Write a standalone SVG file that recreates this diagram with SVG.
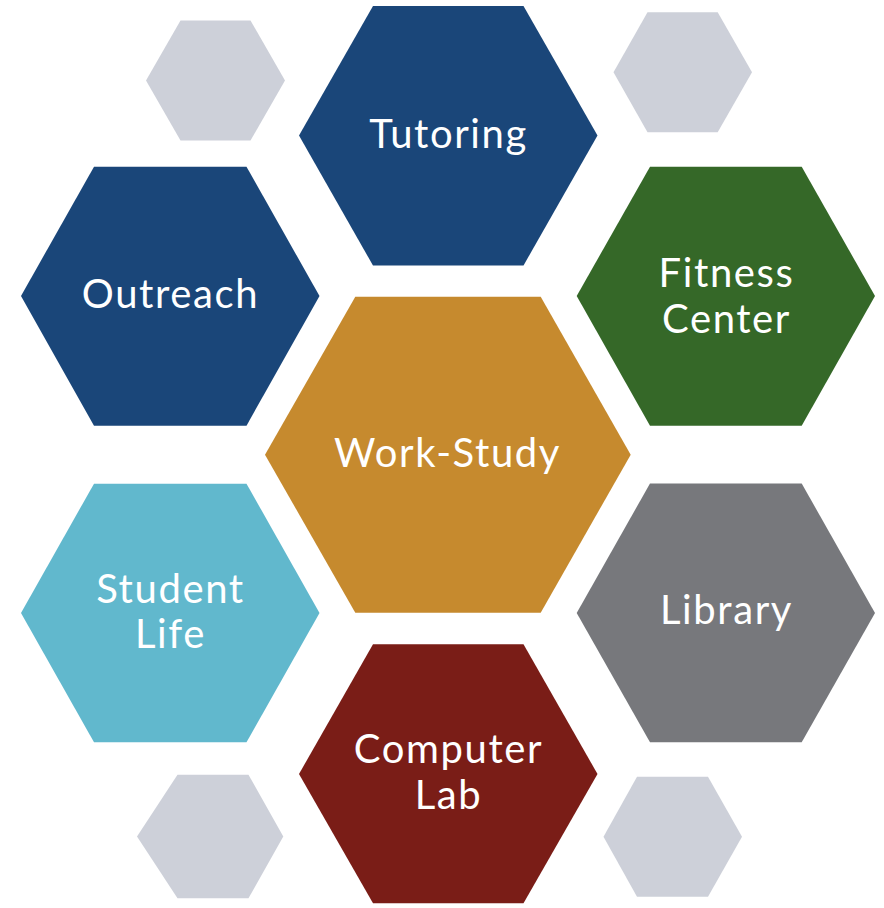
<svg xmlns="http://www.w3.org/2000/svg" width="884" height="908" viewBox="0 0 884 908">
<style>
.t{font-family:"Lato","Open Sans","Liberation Sans",sans-serif;font-size:40px;letter-spacing:1.6px;fill:#ffffff;text-anchor:middle}
.deco{fill:#CDD0D9}
</style>
<rect width="884" height="908" fill="#ffffff"/>
<g id="deco">
<polygon class="deco" points="146,80.5 180.5,20.5 250.5,20.5 285,80.5 250.5,140.5 180.5,140.5"/>
<polygon class="deco" points="613.5,72.3 647.5,12.3 717.7,12.3 752,72.3 717.7,132.3 647.5,132.3"/>
<polygon class="deco" points="137,836.5 177.5,774.7 248.5,774.7 283.3,836.5 248.5,898.3 177.5,898.3"/>
<polygon class="deco" points="603.5,836.7 637,776.7 708,776.7 742,836.7 708,896.7 637,896.7"/>
</g>
<g id="connectors"></g>
<g id="tutoring">
<polygon fill="#1A4679" points="299,135.5 373,6 523.5,6 597.5,135.5 523.5,265.5 373,265.5"/>
<text class="t" x="448.5" y="148">Tutoring</text>
</g>
<g id="outreach">
<polygon fill="#1A4679" points="21,296 94,166.7 246.5,166.7 319.5,296 246.5,425.7 94,425.7"/>
<text class="t" x="170.5" y="308">Outreach</text>
</g>
<g id="fitness">
<polygon fill="#356828" points="576.7,296 650,166.7 801.7,166.7 875,296 801.7,425.7 650,425.7"/>
<text class="t" x="726.5" y="286.5">Fitness</text>
<text class="t" x="726.5" y="333.3">Center</text>
</g>
<g id="workstudy">
<polygon fill="#C68A2E" points="265,454.7 355.3,296.7 540.7,296.7 630.7,454.7 540.7,612.7 355.3,612.7"/>
<text class="t" x="447.5" y="467.3">Work-Study</text>
</g>
<g id="studentlife">
<polygon fill="#61B8CD" points="21,613 94,483.7 246.5,483.7 319.5,613 246.5,742.3 94,742.3"/>
<text class="t" x="170.5" y="602.7">Student</text>
<text class="t" x="170.5" y="648.3">Life</text>
</g>
<g id="library">
<polygon fill="#77787C" points="576.7,613 650,483.5 801.7,483.5 875,613 801.7,742.3 650,742.3"/>
<text class="t" x="726.5" y="624">Library</text>
</g>
<g id="computerlab">
<polygon fill="#7A1D17" points="299,774 373,644.3 523.5,644.3 597.5,774 523.5,903.3 373,903.3"/>
<text class="t" x="448.5" y="763.3">Computer</text>
<text class="t" x="448.5" y="809.3">Lab</text>
</g>
</svg>
